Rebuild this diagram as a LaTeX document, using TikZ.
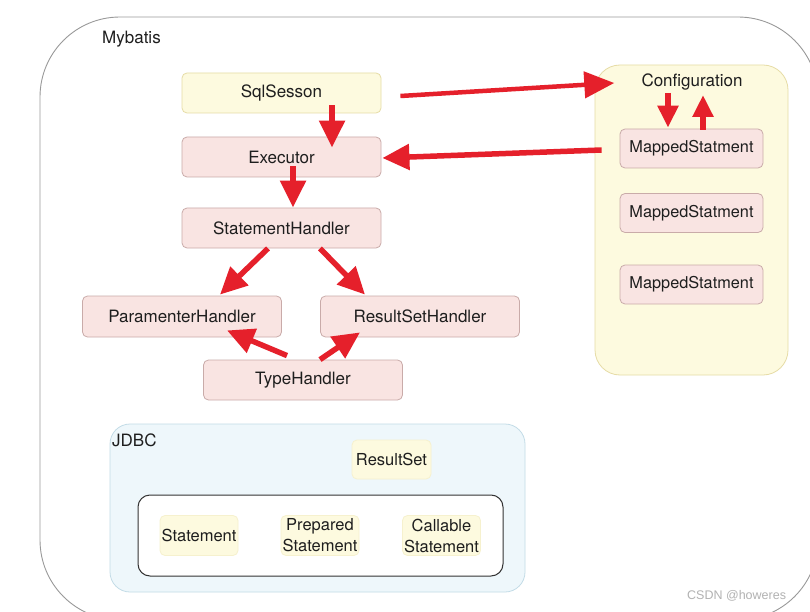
\documentclass[tikz,border=0pt]{standalone}
\usepackage{fontspec}
\setmainfont{TeX Gyre Heros}
\newfontfamily\markfont{Liberation Sans}
\usetikzlibrary{arrows.meta}
\usetikzlibrary{calc}

\definecolor{pinkfill}{HTML}{F9E4E2}
\definecolor{pinkline}{HTML}{C9ABA9}
\definecolor{yellowfill}{HTML}{FDFADF}
\definecolor{yellowline}{HTML}{E6DCA6}
\definecolor{bluefill}{HTML}{EEF7FB}
\definecolor{blueline}{HTML}{C3DCE7}
\definecolor{arrowred}{HTML}{E5202B}
\definecolor{textdark}{HTML}{1E1E1E}

\tikzset{
  boxbase/.style={rounded corners=5pt, line width=0.8pt, text=textdark,
    font=\fontsize{17}{19}\selectfont, align=center, inner sep=0pt},
  pinkbox/.style={boxbase, fill=pinkfill, draw=pinkline,
    minimum width=199pt, minimum height=40pt},
  msbox/.style={boxbase, fill=pinkfill, draw=pinkline,
    minimum width=143pt, minimum height=39pt, font=\fontsize{16.3}{19}\selectfont},
  yellowbox/.style={boxbase, fill=yellowfill, draw=yellowline,
    minimum width=199pt, minimum height=40pt},
  jdbcitem/.style={boxbase, fill=yellowfill, draw=yellowfill!70!yellowline,
    minimum width=78pt, minimum height=40pt, font=\fontsize{16.5}{21}\selectfont},
  title/.style={text=textdark, font=\fontsize{17}{19}\selectfont, inner sep=0pt},
  redarrow/.style={draw=arrowred, line width=5.5pt,
    -{Triangle[length=27pt,width=25pt]}},
}

\begin{document}
\begin{tikzpicture}[x=1pt,y=-1pt]
\useasboundingbox (0,0) rectangle (810,612);
\fill[white] (0,0) rectangle (810,612);
\begin{scope}
\clip (0,0) rectangle (810,612);
\draw[gray!80, line width=0.9pt, rounded corners=80pt] (40,17) rectangle (818,620);
\end{scope}
\node[title, anchor=west] (mybatis) at (102,39) {Mybatis};

% mybatis core
\node[yellowbox] (sql) at (281.5,93) {SqlSesson};
\node[pinkbox] (exec) at (281.5,157) {Executor};
\node[pinkbox] (stmt) at (281.5,228) {StatementHandler};
\node[pinkbox, minimum height=41pt] (param) at (182,316.5) {ParamenterHandler};
\node[pinkbox, minimum height=41pt] (rsh) at (420,316.5) {ResultSetHandler};
\node[pinkbox] (type) at (303,380) {TypeHandler};

% configuration
\draw[fill=yellowfill, draw=yellowline, line width=0.8pt, rounded corners=25pt]
  (595,65) rectangle (788,375);
\node[title] (cfg) at (692,82) {Configuration};
\node[msbox] (ms1) at (691.5,148.5) {MappedStatment};
\node[msbox] (ms2) at (691.5,213) {MappedStatment};
\node[msbox] (ms3) at (691.5,284.5) {MappedStatment};

% jdbc
\draw[fill=bluefill, draw=blueline, line width=0.8pt, rounded corners=20pt]
  (110,424) rectangle (525,592);
\node[title, anchor=west] (jdbc) at (112,440) {JDBC};
\node[jdbcitem, minimum width=79pt, minimum height=39pt] (rs) at (391.5,459.5) {ResultSet};
\draw[draw=black!80, fill=white, line width=1pt, rounded corners=12pt]
  (138,495) rectangle (503,576);
\node[jdbcitem] (st) at (199,535.5) {Statement};
\node[jdbcitem] (prep) at (320,535.5) {Prepared\\Statement};
\node[jdbcitem] (call) at (441.5,535.5) {Callable\\Statement};

% arrows
\draw[redarrow] ($(sql.south)+(50.5,-8)$) -- ($(exec.north)+(50.5,11)$);
\draw[redarrow] ($(exec.south)+(11.5,-11)$) -- ($(stmt.north)+(11.5,0)$);
\draw[redarrow, line width=4.5pt, -{Triangle[length=30pt,width=26pt]}]
  ($(sql.east)+(19,3)$) -- ($(cfg.west)+(-27,1)$);
\draw[redarrow] ($(ms1.west)+(-18,1.5)$) -- ($(exec.east)+(1,1)$);
\draw[redarrow, -{Triangle[length=22pt,width=20pt]}] ($(cfg)+(-24,11)$) -- ($(ms1.north)+(-23.5,-1)$);
\draw[redarrow, -{Triangle[length=22pt,width=20pt]}] ($(ms1.north)+(11.5,1)$) -- ($(cfg)+(11,13)$);
\draw[redarrow] ($(stmt.south)+(-13.5,0)$) -- ($(param.north)+(38,-1)$);
\draw[redarrow] ($(stmt.south)+(38.5,0)$) -- ($(rsh.north)+(-55,-1)$);
\draw[redarrow] ($(type.north)+(-16,-4)$) -- ($(param.south)+(45,-7)$);
\draw[redarrow] ($(type.north)+(17,0)$) -- ($(rsh.south)+(-60,-5)$);

\node[text=black!30, font=\markfont\fontsize{12.5}{14}\selectfont, anchor=west, inner sep=0pt]
  (mark) at (687,596) {CSDN @howeres};
\end{tikzpicture}
\end{document}
